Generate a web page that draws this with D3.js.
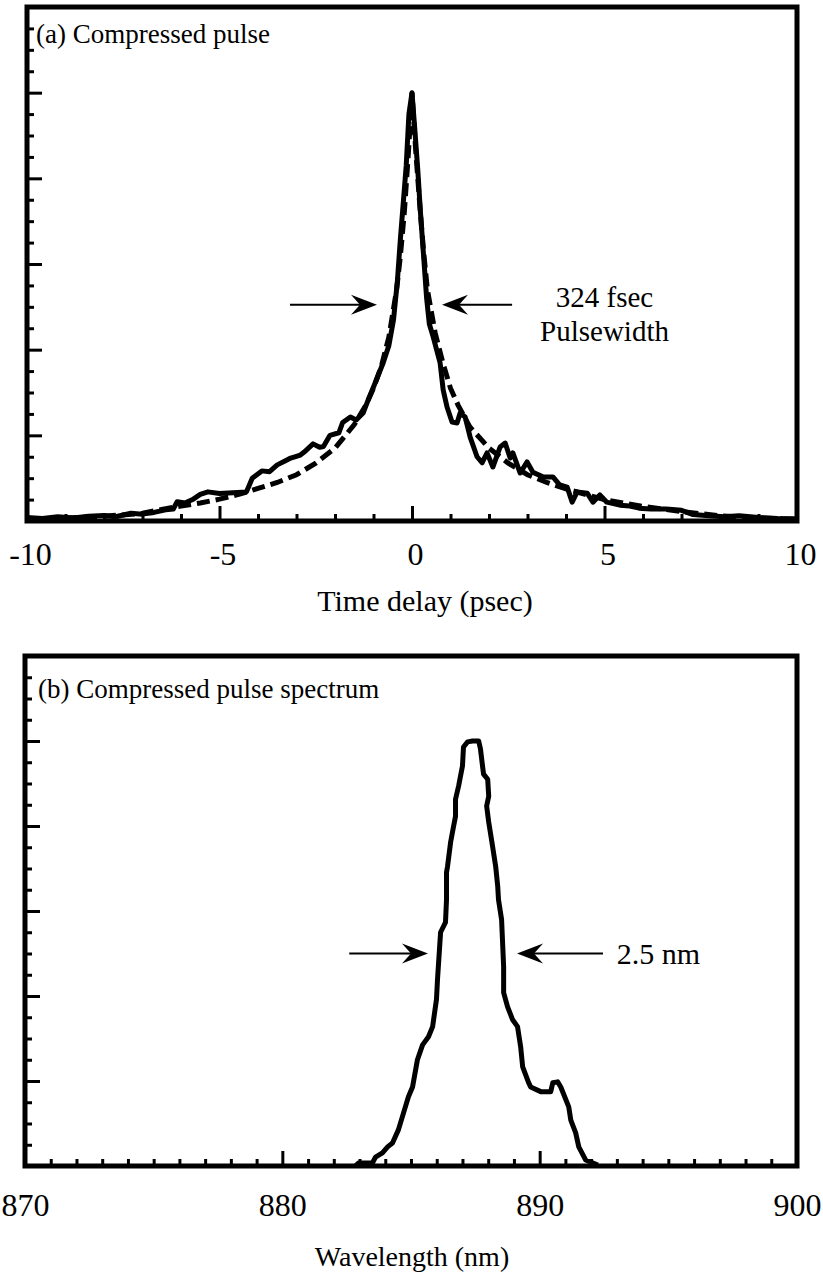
<!DOCTYPE html>
<html lang="en">
<head>
<meta charset="UTF-8">
<title>Compressed pulse and spectrum</title>
<script src="https://cdnjs.cloudflare.com/ajax/libs/d3/7.8.5/d3.min.js"></script>
<style>
    body { margin: 0; background: #fff; }
    svg text { font-family: "Liberation Serif", "Times New Roman", serif; fill: #000; }
    .tick text { font-size: 32px; }
    .tick line { stroke: #000; stroke-width: 3; }
    .domain { display: none; }
</style>
</head>
<body>
<div id="chart"></div>
<script>
// (a) autocorrelation trace, measured (solid)
const pulseDelay = [-10.0, -9.6, -9.2, -8.8, -8.4, -8.0, -7.7, -7.3, -7.0, -6.7, -6.4, -6.2, -6.1, -5.9, -5.7,
    -5.5, -5.3, -5.0, -4.65, -4.3, -4.15, -3.9, -3.7, -3.5, -3.3, -3.15, -2.9, -2.8, -2.57, -2.4, -2.3,
    -2.13, -1.9, -1.8, -1.6, -1.45, -1.27, -1.15, -1.0, -0.75, -0.6, -0.48, -0.38, -0.3, -0.22, -0.15,
    -0.08, 0.0, 0.06, 0.15, 0.22, 0.30, 0.38, 0.45, 0.55, 0.73, 0.81, 0.91, 1.04, 1.17, 1.25, 1.38,
    1.51, 1.69, 1.82, 1.95, 2.10, 2.29, 2.42, 2.55, 2.62, 2.81, 2.99, 3.14, 3.40, 3.66, 3.84, 4.03,
    4.16, 4.29, 4.55, 4.70, 4.88, 5.06, 5.40, 5.66, 5.9, 6.2, 6.6, 7.0, 7.3, 7.7, 8.1, 8.5, 9.0, 9.5, 10.0];
const pulseSignal = [0.008, 0.006, 0.010, 0.007, 0.011, 0.013, 0.010, 0.018, 0.016, 0.020, 0.026, 0.028, 0.045, 0.042, 0.050,
    0.062, 0.068, 0.064, 0.066, 0.068, 0.100, 0.117, 0.115, 0.131, 0.140, 0.147, 0.154, 0.161, 0.180, 0.172, 0.174,
    0.200, 0.206, 0.230, 0.243, 0.236, 0.252, 0.280, 0.313, 0.369, 0.410, 0.470, 0.560, 0.660, 0.750, 0.830,
    0.950, 1.000, 0.930, 0.820, 0.720, 0.620, 0.520, 0.460, 0.430, 0.369, 0.306, 0.266, 0.231, 0.229, 0.252, 0.243,
    0.196, 0.150, 0.136, 0.159, 0.126, 0.173, 0.182, 0.147, 0.159, 0.112, 0.138, 0.114, 0.103, 0.103, 0.084, 0.079,
    0.044, 0.068, 0.065, 0.044, 0.061, 0.044, 0.037, 0.035, 0.030, 0.028, 0.028, 0.025, 0.015, 0.012, 0.010, 0.012, 0.008, 0.006, 0.005];

// (a) fitted trace (dashed)
const fitDelay = [-10, -9, -8, -7, -6.5, -6, -5.5, -5, -4.5, -4, -3.5, -3, -2.5, -2, -1.5, -1.2, -1, -0.8, -0.6,
    -0.4, -0.3, -0.2, -0.1, 0, 0.1, 0.2, 0.3, 0.4, 0.6, 0.8, 1.0, 1.2, 1.5, 2.0, 2.5, 3, 3.5, 4, 4.5, 5,
    5.5, 6, 7, 8, 9, 10];
const fitSignal = [0.004, 0.007, 0.011, 0.018, 0.027, 0.035, 0.042, 0.051, 0.062, 0.076, 0.090, 0.108, 0.135, 0.170, 0.225, 0.270, 0.310, 0.360, 0.430,
    0.540, 0.620, 0.720, 0.850, 1.000, 0.860, 0.740, 0.630, 0.540, 0.440, 0.370, 0.310, 0.270, 0.220, 0.170, 0.135, 0.108, 0.090, 0.075, 0.062, 0.050,
    0.042, 0.034, 0.022, 0.012, 0.007, 0.004];

// (b) spectrum
const specWavelength = [882.84, 882.96, 883.50, 883.62, 883.89, 884.09, 884.28, 884.51, 884.71, 884.90, 885.06, 885.25,
    885.45, 885.68, 885.84, 885.99, 886.03, 886.15, 886.34, 886.38, 886.38, 886.42, 886.54, 886.61, 886.73, 886.73,
    886.85, 887.00, 887.04, 887.20, 887.39, 887.63, 887.70, 887.78, 887.82, 887.98, 888.02, 887.94, 888.02, 888.17,
    888.29, 888.37, 888.40, 888.52, 888.60, 888.60, 888.75, 888.95, 889.14, 889.26, 889.34, 889.57, 889.65, 890.04,
    890.43, 890.51, 890.70, 890.82, 891.13, 891.21, 891.40, 891.52, 891.79, 892.26];
const specIntensity = [0.000, 0.007, 0.007, 0.021, 0.031, 0.045, 0.054, 0.085, 0.125, 0.163, 0.186, 0.250,
    0.285, 0.304, 0.328, 0.392, 0.439, 0.550, 0.573, 0.627, 0.691, 0.705, 0.762, 0.785, 0.823, 0.863,
    0.894, 0.941, 0.986, 0.998, 1.000, 1.000, 0.981, 0.941, 0.922, 0.910, 0.870, 0.847, 0.809, 0.752,
    0.705, 0.658, 0.627, 0.580, 0.469, 0.408, 0.375, 0.344, 0.328, 0.281, 0.233, 0.196, 0.186, 0.175,
    0.175, 0.196, 0.198, 0.186, 0.139, 0.108, 0.078, 0.045, 0.014, 0.002];

const delayTicks = d3.range(-10, 11, 1);
const delayLabels = [-10, -5, 0, 5, 10];
const waveTicks = d3.range(870, 901, 1);
const waveLabels = [870, 880, 890, 900];
const yTicks = d3.range(0, 25).map(i => i * 0.05);

const svg = d3.select("#chart").append("svg")
    .attr("width", 823)
    .attr("height", 1281);

function drawPanel(p) {
    const x = d3.scaleLinear().domain(p.xDomain).range([p.left, p.right]);
    const y = d3.scaleLinear().domain([0, 1.2]).range([p.bottom, p.top]);
    const g = svg.append("g");

    // bottom axis, ticks inward
    const xa = g.append("g")
        .attr("transform", `translate(0,${p.bottom})`)
        .call(d3.axisBottom(x).tickValues(p.ticks).tickSize(-7).tickPadding(p.labelPad)
            .tickFormat(d => p.labels.includes(d) ? String(d) : ""));
    xa.selectAll(".tick line").attr("y2", d => p.labels.includes(d) ? -15 : -7);
    xa.selectAll(".tick text").attr("dx", p.labelShift || 0);

    // left axis, no labels
    const ya = g.append("g")
        .attr("transform", `translate(${p.left},0)`)
        .call(d3.axisLeft(y).tickValues(yTicks).tickSize(-7).tickFormat(""));
    ya.selectAll(".tick line").attr("x2", (d, i) => i % 4 === 0 ? 15 : 7);

    g.append("rect")
        .attr("x", p.left).attr("y", p.top)
        .attr("width", p.right - p.left).attr("height", p.bottom - p.top)
        .attr("fill", "none").attr("stroke", "#000").attr("stroke-width", 5);

    g.append("text")
        .attr("x", p.left + p.titleDx).attr("y", p.top + p.titleDy)
        .style("font-size", "27px")
        .text(p.title);

    g.append("text")
        .attr("x", p.axisTitleX).attr("y", p.axisTitleY)
        .attr("text-anchor", "middle")
        .style("font-size", p.axisTitleSize)
        .text(p.axisTitle);

    return { g, x, y };
}

function arrow(g, x1, x2, yy) {
    // shaft from x1 to tip at x2
    const dir = x2 > x1 ? 1 : -1;
    g.append("line")
        .attr("x1", x1).attr("x2", x2 - dir * 8)
        .attr("y1", yy).attr("y2", yy)
        .attr("stroke", "#000").attr("stroke-width", 2);
    g.append("path")
        .attr("d", `M${x2},${yy} L${x2 - dir * 26},${yy - 10} L${x2 - dir * 17},${yy} L${x2 - dir * 26},${yy + 10} Z`)
        .attr("fill", "#000");
}

// panel (a)
const a = drawPanel({
    xDomain: [-10, 10], left: 27, right: 797, top: 7, bottom: 521,
    ticks: delayTicks, labels: delayLabels, labelPad: 21, labelShift: 3,
    title: "(a) Compressed pulse", titleDx: 9, titleDy: 36,
    axisTitle: "Time delay (psec)", axisTitleX: 425, axisTitleY: 611, axisTitleSize: "30px"
});

const lineA = d3.line().x(d => a.x(d[0])).y(d => a.y(d[1]));
a.g.append("path")
    .datum(d3.zip(fitDelay, fitSignal))
    .attr("d", lineA)
    .attr("fill", "none").attr("stroke", "#000")
    .attr("stroke-width", 5).attr("stroke-dasharray", "13,6");
a.g.append("path")
    .datum(d3.zip(pulseDelay, pulseSignal))
    .attr("d", lineA)
    .attr("fill", "none").attr("stroke", "#000")
    .attr("stroke-width", 5).attr("stroke-linejoin", "round");

arrow(a.g, a.x(-3.17), a.x(-0.91), a.y(0.505));
arrow(a.g, a.x(2.6), a.x(0.78), a.y(0.505));
a.g.append("text").attr("x", a.x(5.0)).attr("y", a.y(0.505) + 2)
    .attr("text-anchor", "middle").style("font-size", "29px").text("324 fsec");
a.g.append("text").attr("x", a.x(5.0)).attr("y", a.y(0.505) + 36)
    .attr("text-anchor", "middle").style("font-size", "29px").text("Pulsewidth");

// panel (b)
const b = drawPanel({
    xDomain: [870, 900], left: 25, right: 797, top: 656, bottom: 1166,
    ticks: waveTicks, labels: waveLabels, labelPad: 27,
    title: "(b) Compressed pulse spectrum", titleDx: 13, titleDy: 42,
    axisTitle: "Wavelength (nm)", axisTitleX: 412, axisTitleY: 1266, axisTitleSize: "28px"
});

const lineB = d3.line().x(d => b.x(d[0])).y(d => b.y(d[1]));
b.g.append("path")
    .datum(d3.zip(specWavelength, specIntensity))
    .attr("d", lineB)
    .attr("fill", "none").attr("stroke", "#000")
    .attr("stroke-width", 5).attr("stroke-linejoin", "round");

arrow(b.g, b.x(882.6), b.x(885.66), b.y(0.50));
arrow(b.g, b.x(892.46), b.x(889.12), b.y(0.50));
b.g.append("text").attr("x", b.x(893.0)).attr("y", b.y(0.50) + 10)
    .style("font-size", "30px").text("2.5 nm");
</script>
</body>
</html>
